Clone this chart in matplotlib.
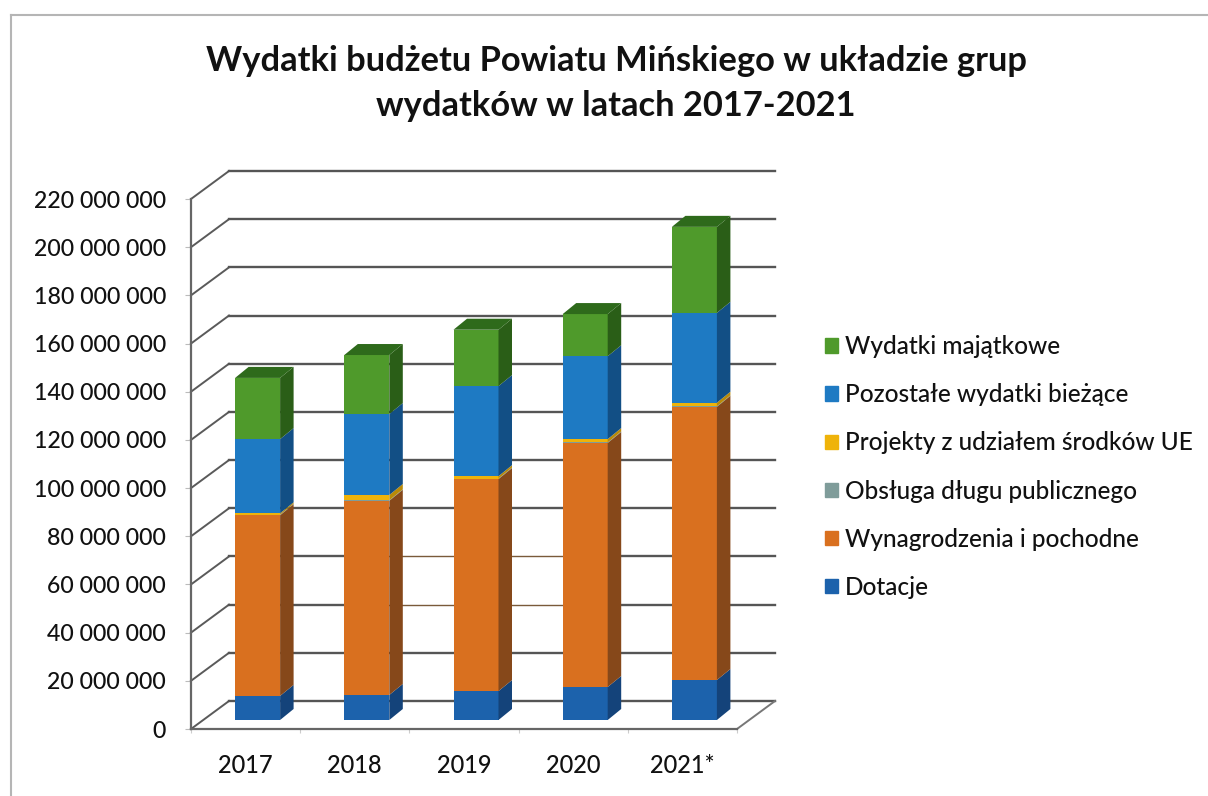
import matplotlib
matplotlib.use("Agg")
import matplotlib.pyplot as plt
from matplotlib.lines import Line2D
from matplotlib.patches import Patch
from matplotlib.ticker import FuncFormatter
import numpy as np

plt.rcParams['font.family'] = ['Lato', 'DejaVu Sans']

# -----------------------------
# DATA
# -----------------------------
years = ["2017", "2018", "2019", "2020", "2021*"]

dotacje = [10.0e6, 10.4e6, 12.0e6, 13.7e6, 16.6e6]
wynagrodzenia = [75.0e6, 80.6e6, 88.0e6, 101.3e6, 113.4e6]
obsluga_dlugu = [0.2e6, 0.2e6, 0.2e6, 0.2e6, 0.2e6]
projekty_ue = [0.6e6, 2.2e6, 1.0e6, 1.4e6, 1.5e6]
pozostale = [30.8e6, 33.6e6, 37.4e6, 34.4e6, 37.3e6]
majatkowe = [25.4e6, 24.5e6, 23.4e6, 17.5e6, 35.7e6]

series_names = ["Dotacje", "Wynagrodzenia i pochodne", "Obsługa długu publicznego",
                "Projekty z udziałem środków UE", "Pozostałe wydatki bieżące", "Wydatki majątkowe"]
series_values = [dotacje, wynagrodzenia, obsluga_dlugu, projekty_ue, pozostale, majatkowe]

# front, side
series_colors = [("#1C62AC", "#14437A"), ("#D9701F", "#86481A"), ("#7F9C9A", "#5A7170"),
                 ("#EFB30A", "#B98A08"), ("#1E7AC3", "#124F85"), ("#4F9A2B", "#2A5E17")]
top_color = "#2E6A1B"

# -----------------------------
# LAYOUT (pixels of the 1208x796 picture)
# -----------------------------
W, H = 1208, 796
fig = plt.figure(figsize=(W / 100, H / 100), dpi=100, facecolor="white")
ax = fig.add_axes([191 / W, (H - 729) / H, 546 / W, 530 / H])
ax.set_xlim(0, 5)
ax.set_ylim(0, 220e6)
ax.patch.set_alpha(0)

px_x = 5 / 546
px_y = 220e6 / 530
wall_dx, wall_dy = 38 * px_x, 28 * px_y
depth_dx, depth_dy = 13.5 * px_x, 11 * px_y
shift_dx, shift_dy = 12 * px_x, 9 * px_y
bar_w = 45 * px_x

# outer frame
for xs, ys in [((11, W), (15, 15)), ((11, 11), (15, H))]:
    fig.add_artist(Line2D([x / W for x in xs], [1 - y / H for y in ys], color="#b5b5b5", lw=1.5))

# -----------------------------
# WALLS
# -----------------------------
ticks = np.arange(0, 220e6 + 1, 20e6)
for t in ticks:
    ax.plot([0, wall_dx], [t, t + wall_dy], color="#5a5a5a", lw=1.4, clip_on=False, zorder=1)
    ax.plot([wall_dx, 5 + wall_dx], [t + wall_dy, t + wall_dy], color="#555555", lw=1.7, clip_on=False, zorder=1)
ax.plot([5, 5 + wall_dx], [0, wall_dy], color="#777777", lw=1.4, clip_on=False, zorder=1)

# -----------------------------
# BARS
# -----------------------------
centers = np.arange(len(years)) + 0.5 + shift_dx

# scan damage behind the 2019 bar: the two gridlines there are thin and brown
for t in [40e6, 60e6]:
    ax.plot([centers[1], centers[3]], [t + wall_dy, t + wall_dy], color="white", lw=3, clip_on=False, zorder=2)
    ax.plot([centers[1], centers[3]], [t + wall_dy, t + wall_dy], color="#7a5a3a", lw=1.0, clip_on=False, zorder=2)

bottom = np.zeros(len(years))
for vals, (front, side) in zip(series_values, series_colors):
    vals = np.array(vals)
    ax.bar(centers, vals, bar_w, bottom=bottom + shift_dy, color=front, zorder=3, clip_on=False)
    for c, b, v in zip(centers, bottom + shift_dy, vals):
        r = c + bar_w / 2
        ax.fill([r, r + depth_dx, r + depth_dx, r], [b, b + depth_dy, b + v + depth_dy, b + v],
                color=side, lw=0, zorder=3, clip_on=False)
    bottom = bottom + vals

for c, t in zip(centers, bottom + shift_dy):
    l, r = c - bar_w / 2, c + bar_w / 2
    ax.fill([l, r, r + depth_dx, l + depth_dx], [t, t, t + depth_dy, t + depth_dy],
            color=top_color, lw=0, zorder=3, clip_on=False)

# -----------------------------
# AXES
# -----------------------------
for s in ["top", "right"]:
    ax.spines[s].set_visible(False)
for s in ["left", "bottom"]:
    ax.spines[s].set_color("#666666")
    ax.spines[s].set_linewidth(1.6)

ax.set_yticks(ticks)
ax.yaxis.set_major_formatter(FuncFormatter(lambda v, p: f"{int(v):,}".replace(",", " ")))
ax.set_xticks(np.arange(0, 6))
ax.set_xticklabels([])
ax.set_xticks(np.arange(len(years)) + 0.5, minor=True)
ax.set_xticklabels(years, minor=True)
ax.tick_params(axis="y", length=4, color="#bbbbbb", labelsize=16.7, labelcolor="#111111", pad=14)
ax.tick_params(axis="x", which="major", length=3, color="#cccccc")
ax.tick_params(axis="x", which="minor", length=0, labelsize=17, labelcolor="#111111", pad=18)
for lab in ax.get_yticklabels() + ax.get_xticklabels(minor=True):
    lab.set_fontweight("medium")

# -----------------------------
# TITLE + LEGEND
# -----------------------------
fig.text(616 / W, 1 - 61 / H, "Wydatki budżetu Powiatu Mińskiego w układzie grup",
         ha="center", va="center", fontsize=24.8, fontweight="bold", color="#111111")
fig.text(616 / W, 1 - 106 / H, "wydatków w latach 2017-2021",
         ha="center", va="center", fontsize=24.8, fontweight="bold", color="#111111")

handles = [Patch(color=c[0], label=n) for n, c in zip(series_names, series_colors)][::-1]
leg = fig.legend(handles=handles, loc="center left", bbox_to_anchor=(803 / W, 1 - 467 / H), frameon=False,
                 fontsize=17.6, labelcolor="#111111", handlelength=0.52, handleheight=0.52,
                 handletextpad=0.3, labelspacing=1.03)
for lab in leg.get_texts():
    lab.set_fontweight("medium")

fig.savefig("out.png", dpi=100)
